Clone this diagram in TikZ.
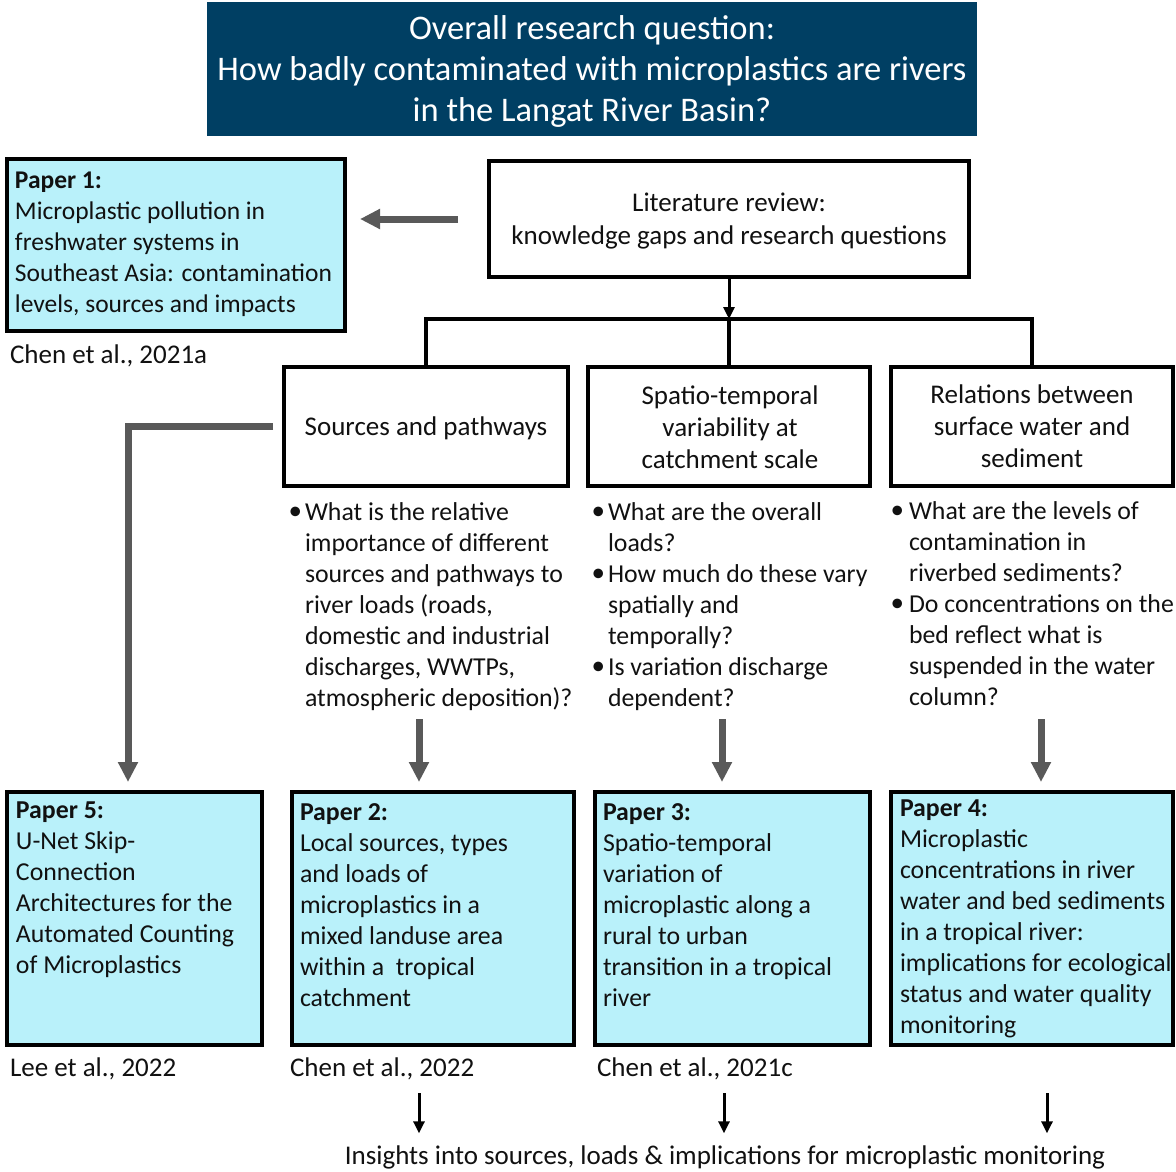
\documentclass[tikz,border=0pt]{standalone}
\usepackage{fontspec}
\setmainfont{Carlito}
\usetikzlibrary{arrows.meta}
\definecolor{banner}{HTML}{003F63}
\definecolor{paperfill}{HTML}{B9F1FA}
\definecolor{garrowc}{HTML}{595959}
\definecolor{txt}{HTML}{111111}
\newcommand\qdot{\hspace*{-1.5pt}\raisebox{0.5pt}{\fontsize{27}{31}\selectfont •}}
\newcommand\qbul{\makebox[15pt][l]{\qdot}}
\newcommand\qind{\hspace*{15pt}}
\newcommand\rbul{\makebox[17pt][l]{\qdot}}
\newcommand\rind{\hspace*{17pt}}
\begin{document}
\begin{tikzpicture}[x=1pt,y=-1pt,
  every node/.style={inner sep=0pt, outer sep=0pt},
  txtfont/.style={font=\fontsize{25.8}{31}\selectfont, text=txt},
  headfont/.style={font=\fontsize{27}{32}\selectfont, text=txt},
  paper/.style={draw=black, line width=4pt, fill=paperfill},
  qbox/.style={draw=black, line width=4pt, fill=white},
  ltext/.style={txtfont, align=left, anchor=north west},
  ctext/.style={headfont, align=center},
  cite/.style={headfont, anchor=west},
  garrow/.style={draw=garrowc, line width=7pt, miter limit=10, -{Triangle[length=20pt,width=19pt]}},
  barrow/.style={draw=black, line width=3pt, -{Triangle[length=12pt,width=11pt]}},
  bline/.style={draw=black, line width=3.5pt},
]
\useasboundingbox[fill=white] (0,0) rectangle (1176,1171);

% banner
\node[fill=banner, minimum width=770pt, minimum height=134pt] (ban) at (592,69) {};
\node[font=\fontsize{34.5}{41}\selectfont, text=white, align=center] (bantext) at (592,71)
  {Overall research question:\\How badly contaminated with microplastics are rivers\\in the Langat River Basin?};

% paper 1
\node[paper, minimum width=338pt, minimum height=172pt] (p1) at (176,245) {};
\node[ltext, font=\fontsize{25.5}{30.8}\selectfont] (p1t) at (15,167.3) {\strut\textbf{Paper 1:}\\Microplastic pollution in\\freshwater systems in\\Southeast Asia: contamination\\levels, sources and impacts};
\node[cite] (c1) at (10,356) {Chen et al., 2021a};

% literature review
\node[qbox, minimum width=480pt, minimum height=116pt] (lit) at (729,219) {};
\node[ctext, font=\fontsize{27}{33}\selectfont] (litt) at (729,221) {Literature review:\\knowledge gaps and research questions};

% three topic boxes
\node[qbox, minimum width=284pt, minimum height=119pt] (src) at (426,426.5) {};
\node[ctext] (srct) at (426,428) {Sources and pathways};
\node[qbox, minimum width=282pt, minimum height=119pt] (spt) at (729,426.5) {};
\node[ctext] (sptt) at (730,427) {Spatio-temporal\\variability at\\catchment scale};
\node[qbox, minimum width=282pt, minimum height=119pt] (rel) at (1032,426.5) {};
\node[ctext] (relt) at (1032,426) {Relations between\\surface water and\\sediment};

% bracket connectors
\coordinate (br) at (729,319);
\draw[barrow] (lit.south) -- (br);
\draw[bline] (src.north) |- (br) -| (rel.north);
\draw[bline] (br) -- (spt.north);

% gray arrow to paper 1
\draw[garrow] ([xshift=-31pt]lit.west) -- ([xshift=15pt]lit.west -| p1.east);

% bullet questions
\node[ltext] (q1) at (290,498.3) {\strut\qbul What is the relative\\\qind importance of different\\\qind sources and pathways to\\\qind river loads (roads,\\\qind domestic and industrial\\\qind discharges, WWTPs,\\\qind atmospheric deposition)?};
\node[ltext] (q2) at (593,498.3) {\strut\qbul What are the overall\\\qind loads?\\\qbul How much do these vary\\\qind spatially and\\\qind temporally?\\\qbul Is variation discharge\\\qind dependent?};
\node[ltext] (q3) at (892,497.3) {\strut\rbul What are the levels of\\\rind contamination in\\\rind riverbed sediments?\\\rbul Do concentrations on the\\\rind bed reflect what is\\\rind suspended in the water\\\rind column?};

% bottom paper boxes
\node[paper, minimum width=255pt, minimum height=253pt] (p5) at (134.5,918.5) {};
\node[paper, minimum width=282pt, minimum height=253pt] (p2) at (433,918.5) {};
\node[paper, minimum width=275pt, minimum height=253pt] (p3) at (732.5,918.5) {};
\node[paper, minimum width=282pt, minimum height=253pt] (p4) at (1032,918.5) {};

\node[ltext] (p5t) at (16,796.3) {\strut\textbf{Paper 5:}\\U-Net Skip-\\Connection\\Architectures for the\\Automated Counting\\of Microplastics};
\node[ltext] (p2t) at (300,798.3) {\strut\textbf{Paper 2:}\\Local sources, types\\and loads of\\microplastics in a\\mixed landuse area\\within a\ \ tropical\\catchment};
\node[ltext] (p3t) at (603,798.3) {\strut\textbf{Paper 3:}\\Spatio-temporal\\variation of\\microplastic along a\\rural to urban\\transition in a tropical\\river};
\node[ltext] (p4t) at (900,794.3) {\strut\textbf{Paper 4:}\\Microplastic\\concentrations in river\\water and bed sediments\\in a tropical river:\\implications for ecological\\status and water quality\\monitoring};

% gray arrows from questions to papers
\coordinate (a2) at (419,719);
\coordinate (a3) at (722,719);
\coordinate (a4) at (1041,719);
\draw[garrow, shorten >=10pt] (a2) -- (a2 |- p2.north);
\draw[garrow, shorten >=10pt] (a3) -- (a3 |- p3.north);
\draw[garrow, shorten >=10pt] (a4) -- (a4 |- p4.north);
\draw[garrow] ([xshift=-11pt]src.west) -| ([xshift=-6.5pt,yshift=10pt]p5.north);

% citations
\node[cite] (c5) at (10,1069) {Lee et al., 2022};
\node[cite] (c2) at (290,1069) {Chen et al., 2022};
\node[cite] (c3) at (597,1069) {Chen et al., 2021c};

% final insight
\node[ctext] (ins) at (725,1157) {Insights into sources, loads \& implications for microplastic monitoring};
\coordinate (b2) at (419,1093);
\coordinate (b3) at (724,1093);
\coordinate (b4) at (1047,1093);
\draw[barrow, shorten >=12pt] (b2) -- (b2 |- ins.north);
\draw[barrow, shorten >=12pt] (b3) -- (b3 |- ins.north);
\draw[barrow, shorten >=12pt] (b4) -- (b4 |- ins.north);
\end{tikzpicture}
\end{document}
